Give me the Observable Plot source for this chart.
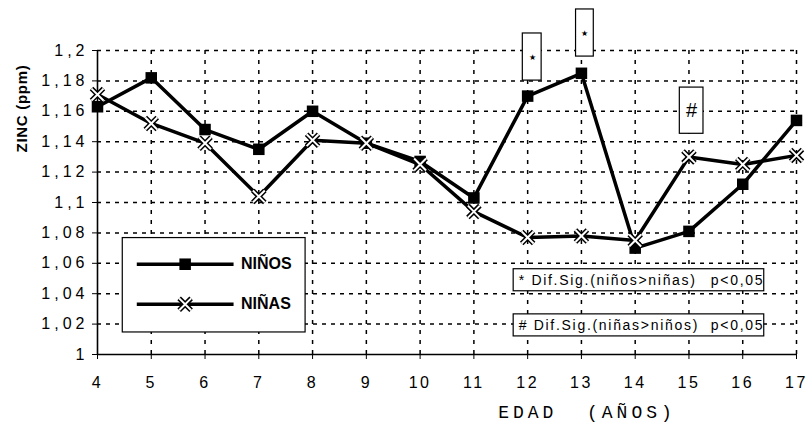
<!DOCTYPE html>
<html>
<head>
<meta charset="utf-8">
<script src="https://cdn.jsdelivr.net/npm/d3@7"></script>
<script src="https://cdn.jsdelivr.net/npm/@observablehq/plot@0.6"></script>
<style>
  html, body { margin: 0; padding: 0; background: #fff; }
  #chart svg { display: block; overflow: visible; }
  #chart g[aria-label="y-axis tick label"] text { letter-spacing: 4px; }
  #chart g[aria-label="x-axis tick label"] text { letter-spacing: 2.5px; }
  #chart g[aria-description="note"] text { letter-spacing: 1.7px; }
  #chart g[aria-description="ylab"] text { letter-spacing: 0.7px; }
  #chart g[aria-description="xlabel"] text { letter-spacing: 4px; font-family: "Courier New", "Liberation Mono", "Nimbus Mono PS", FreeMono, monospace; }
  #chart g[aria-description="gridy"] line { stroke-dasharray: 4 5; }
  #chart g[aria-description="gridx"] line { stroke-dasharray: 4 6; }
</style>
</head>
<body>
<div id="chart"></div>
<script>
// ---- data ----
const ages = [4, 5, 6, 7, 8, 9, 10, 11, 12, 13, 14, 15, 16, 17];
const ninos = [1.163, 1.182, 1.148, 1.135, 1.160, 1.139, 1.127, 1.103, 1.170, 1.185, 1.070, 1.081, 1.112, 1.154];
const ninas = [1.171, 1.152, 1.139, 1.104, 1.141, 1.139, 1.125, 1.094, 1.077, 1.078, 1.075, 1.130, 1.125, 1.131];
const yTicks = [1, 1.02, 1.04, 1.06, 1.08, 1.1, 1.12, 1.14, 1.16, 1.18, 1.2];
const seriesNames = ["NIÑOS", "NIÑAS"];
const notes = ["* Dif.Sig.(niños>niñas)", "# Dif.Sig.(niñas>niños)"];
const noteP = "p<0,05";
const yLabel = "ZINC (ppm)";
const xLabel = "EDAD  (AÑOS)";

const boysData = ages.map((a, i) => ({age: a, v: ninos[i]}));
const girlsData = ages.map((a, i) => ({age: a, v: ninas[i]}));
const fmt = d => String(+d.toFixed(2)).replace(".", ",");

// annotation box placement (in chart units)
const starBoxes = [
  {x1: 11.91, x2: 12.26, y1: 1.1802, y2: 1.2112},
  {x1: 12.90, x2: 13.23, y1: 1.1960, y2: 1.2270}
];
const hashBox = [{x1: 14.83, x2: 15.27, y1: 1.1452, y2: 1.1756}];
const noteBoxes = [
  {x1: 11.74, x2: 16.40, y1: 1.0416, y2: 1.0561, ty: 1.0488, t: notes[0]},
  {x1: 11.74, x2: 16.40, y1: 1.0119, y2: 1.0264, ty: 1.0191, t: notes[1]}
];
const legendBox = [{x1: 4.47, x2: 7.87, y1: 1.0145, y2: 1.0766}];
const legendRows = [{name: seriesNames[0], y: 1.0594}, {name: seriesNames[1], y: 1.0330}];

const plot = Plot.plot({
  width: 808,
  height: 433,
  marginLeft: 97,
  marginRight: 12,
  marginTop: 50,
  marginBottom: 79,
  style: {color: "#000", background: "#fff", fontFamily: "'Liberation Sans', Arial, sans-serif"},
  x: {domain: [4, 17]},
  y: {domain: [1, 1.2]},
  marks: [
    Plot.ruleY(yTicks.filter(d => d > 1), {stroke: "#000", strokeWidth: 1.5, strokeDasharray: "4,5", ariaDescription: "gridy"}),
    Plot.ruleX(ages.filter(d => d > 4), {stroke: "#000", strokeWidth: 1.5, strokeDasharray: "4,6", ariaDescription: "gridx"}),
    Plot.ruleX([4], {stroke: "#000", strokeWidth: 1.6}),
    Plot.ruleY([1], {stroke: "#000", strokeWidth: 1.6}),
    Plot.axisY(yTicks, {tickSize: 5, tickPadding: 4, tickFormat: fmt, fontSize: 16, label: null}),
    Plot.axisX(ages, {tickSize: 5, tickPadding: 17, fontSize: 16, label: null}),
    Plot.text([yLabel], {frameAnchor: "top-left", textAnchor: "middle", lineAnchor: "middle", dx: -75, dy: 58, rotate: -90, fontSize: 15, fontWeight: "bold", text: d => d, ariaDescription: "ylab"}),
    Plot.text([xLabel], {frameAnchor: "bottom", textAnchor: "middle", lineAnchor: "middle", dx: 140, dy: 58, fontSize: 18, fontFamily: "'Courier New', 'Liberation Mono', monospace", text: d => d, ariaDescription: "xlabel"}),
    // series lines
    Plot.line(boysData, {x: "age", y: "v", stroke: "#000", strokeWidth: 3.5}),
    Plot.line(girlsData, {x: "age", y: "v", stroke: "#000", strokeWidth: 3.5}),
    Plot.dot(boysData, {x: "age", y: "v", symbol: "square", r: 6.5, fill: "#000", stroke: "none"}),
    Plot.dot(girlsData, {x: "age", y: "v", symbol: "times", r: 5.5, stroke: "#000", strokeWidth: 5}),
    Plot.dot(girlsData, {x: "age", y: "v", symbol: "times", r: 5.5, stroke: "#fff", strokeWidth: 2}),
    // significance boxes
    Plot.rect(starBoxes, {x1: "x1", x2: "x2", y1: "y1", y2: "y2", fill: "#fff", stroke: "#000", strokeWidth: 1.2}),
    Plot.text(starBoxes, {x: d => (d.x1 + d.x2) / 2, y: d => (d.y1 + d.y2) / 2, text: () => "★", fontSize: 8}),
    Plot.rect(hashBox, {x1: "x1", x2: "x2", y1: "y1", y2: "y2", fill: "#fff", stroke: "#000", strokeWidth: 1.2}),
    Plot.text(hashBox, {x: d => (d.x1 + d.x2) / 2, y: d => (d.y1 + d.y2) / 2, text: () => "#", fontSize: 20}),
    // note boxes
    Plot.rect(noteBoxes, {x1: "x1", x2: "x2", y1: "y1", y2: "y2", fill: "#fff", stroke: "#000", strokeWidth: 1.2}),
    Plot.text(noteBoxes, {x: "x1", y: "ty", text: "t", textAnchor: "start", dx: 5, fontSize: 14, ariaDescription: "note"}),
    Plot.text(noteBoxes, {x: "x2", y: "ty", text: () => noteP, textAnchor: "end", dx: 0, fontSize: 14, ariaDescription: "note"}),
    // legend
    Plot.rect(legendBox, {x1: "x1", x2: "x2", y1: "y1", y2: "y2", fill: "#fff", stroke: "#000", strokeWidth: 1.2}),
    Plot.ruleY(legendRows, {y: "y", x1: 4.74, x2: 6.54, stroke: "#000", strokeWidth: 3.5}),
    Plot.dot(legendRows.slice(0, 1), {x: 5.63, y: "y", symbol: "square", r: 6.5, fill: "#000", stroke: "none"}),
    Plot.dot(legendRows.slice(1), {x: 5.63, y: "y", symbol: "times", r: 5.5, stroke: "#000", strokeWidth: 5}),
    Plot.dot(legendRows.slice(1), {x: 5.63, y: "y", symbol: "times", r: 5.5, stroke: "#fff", strokeWidth: 2}),
    Plot.text(legendRows, {x: 6.67, y: "y", text: "name", textAnchor: "start", fontSize: 16, fontWeight: "bold"})
  ]
});
document.getElementById("chart").appendChild(plot);
</script>
</body>
</html>
